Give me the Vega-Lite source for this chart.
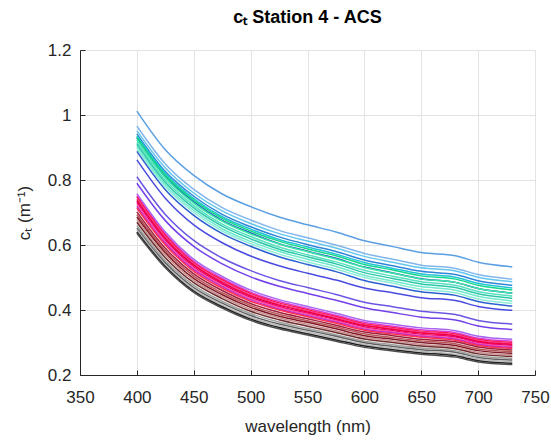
{
"$schema":"https://vega.github.io/schema/vega-lite/v6.json",
"width":455,"height":325,
"autosize":{"type":"none"},
"padding":{"left":80,"top":50,"right":16,"bottom":67},
"background":"white",
"title":{"text":"cₜ Station  4 - ACS","font":"Liberation Sans","fontSize":18,"fontWeight":"bold","color":"#000000","anchor":"middle","offset":14},
"datasets":{"spectra":[
{"id":1,"w":400,"c":1.012},{"id":1,"w":425,"c":0.893},{"id":1,"w":450,"c":0.814},{"id":1,"w":475,"c":0.757},{"id":1,"w":500,"c":0.718},{"id":1,"w":525,"c":0.686},{"id":1,"w":550,"c":0.662},{"id":1,"w":575,"c":0.640},{"id":1,"w":600,"c":0.613},{"id":1,"w":625,"c":0.595},{"id":1,"w":650,"c":0.577},{"id":1,"w":680,"c":0.567},{"id":1,"w":700,"c":0.547},{"id":1,"w":730,"c":0.533},
{"id":2,"w":400,"c":0.966},{"id":2,"w":425,"c":0.849},{"id":2,"w":450,"c":0.771},{"id":2,"w":475,"c":0.715},{"id":2,"w":500,"c":0.677},{"id":2,"w":525,"c":0.645},{"id":2,"w":550,"c":0.622},{"id":2,"w":575,"c":0.600},{"id":2,"w":600,"c":0.574},{"id":2,"w":625,"c":0.556},{"id":2,"w":650,"c":0.538},{"id":2,"w":680,"c":0.528},{"id":2,"w":700,"c":0.509},{"id":2,"w":730,"c":0.495},
{"id":3,"w":400,"c":0.952},{"id":3,"w":425,"c":0.837},{"id":3,"w":450,"c":0.760},{"id":3,"w":475,"c":0.705},{"id":3,"w":500,"c":0.666},{"id":3,"w":525,"c":0.635},{"id":3,"w":550,"c":0.612},{"id":3,"w":575,"c":0.591},{"id":3,"w":600,"c":0.565},{"id":3,"w":625,"c":0.547},{"id":3,"w":650,"c":0.530},{"id":3,"w":680,"c":0.520},{"id":3,"w":700,"c":0.501},{"id":3,"w":730,"c":0.487},
{"id":4,"w":400,"c":0.942},{"id":4,"w":425,"c":0.826},{"id":4,"w":450,"c":0.750},{"id":4,"w":475,"c":0.694},{"id":4,"w":500,"c":0.656},{"id":4,"w":525,"c":0.625},{"id":4,"w":550,"c":0.601},{"id":4,"w":575,"c":0.580},{"id":4,"w":600,"c":0.554},{"id":4,"w":625,"c":0.536},{"id":4,"w":650,"c":0.519},{"id":4,"w":680,"c":0.509},{"id":4,"w":700,"c":0.490},{"id":4,"w":730,"c":0.476},
{"id":5,"w":400,"c":0.936},{"id":5,"w":425,"c":0.820},{"id":5,"w":450,"c":0.743},{"id":5,"w":475,"c":0.687},{"id":5,"w":500,"c":0.649},{"id":5,"w":525,"c":0.617},{"id":5,"w":550,"c":0.594},{"id":5,"w":575,"c":0.572},{"id":5,"w":600,"c":0.546},{"id":5,"w":625,"c":0.528},{"id":5,"w":650,"c":0.511},{"id":5,"w":680,"c":0.501},{"id":5,"w":700,"c":0.482},{"id":5,"w":730,"c":0.468},
{"id":6,"w":400,"c":0.930},{"id":6,"w":425,"c":0.811},{"id":6,"w":450,"c":0.733},{"id":6,"w":475,"c":0.676},{"id":6,"w":500,"c":0.637},{"id":6,"w":525,"c":0.604},{"id":6,"w":550,"c":0.581},{"id":6,"w":575,"c":0.559},{"id":6,"w":600,"c":0.532},{"id":6,"w":625,"c":0.514},{"id":6,"w":650,"c":0.496},{"id":6,"w":680,"c":0.485},{"id":6,"w":700,"c":0.466},{"id":6,"w":730,"c":0.452},
{"id":7,"w":400,"c":0.932},{"id":7,"w":425,"c":0.815},{"id":7,"w":450,"c":0.738},{"id":7,"w":475,"c":0.682},{"id":7,"w":500,"c":0.643},{"id":7,"w":525,"c":0.612},{"id":7,"w":550,"c":0.588},{"id":7,"w":575,"c":0.567},{"id":7,"w":600,"c":0.540},{"id":7,"w":625,"c":0.523},{"id":7,"w":650,"c":0.505},{"id":7,"w":680,"c":0.495},{"id":7,"w":700,"c":0.476},{"id":7,"w":730,"c":0.462},
{"id":8,"w":400,"c":0.924},{"id":8,"w":425,"c":0.807},{"id":8,"w":450,"c":0.729},{"id":8,"w":475,"c":0.673},{"id":8,"w":500,"c":0.634},{"id":8,"w":525,"c":0.603},{"id":8,"w":550,"c":0.579},{"id":8,"w":575,"c":0.557},{"id":8,"w":600,"c":0.531},{"id":8,"w":625,"c":0.513},{"id":8,"w":650,"c":0.495},{"id":8,"w":680,"c":0.485},{"id":8,"w":700,"c":0.466},{"id":8,"w":730,"c":0.452},
{"id":9,"w":400,"c":0.916},{"id":9,"w":425,"c":0.799},{"id":9,"w":450,"c":0.721},{"id":9,"w":475,"c":0.664},{"id":9,"w":500,"c":0.626},{"id":9,"w":525,"c":0.594},{"id":9,"w":550,"c":0.570},{"id":9,"w":575,"c":0.548},{"id":9,"w":600,"c":0.522},{"id":9,"w":625,"c":0.504},{"id":9,"w":650,"c":0.487},{"id":9,"w":680,"c":0.476},{"id":9,"w":700,"c":0.457},{"id":9,"w":730,"c":0.443},
{"id":10,"w":400,"c":0.910},{"id":10,"w":425,"c":0.792},{"id":10,"w":450,"c":0.714},{"id":10,"w":475,"c":0.658},{"id":10,"w":500,"c":0.619},{"id":10,"w":525,"c":0.587},{"id":10,"w":550,"c":0.564},{"id":10,"w":575,"c":0.542},{"id":10,"w":600,"c":0.515},{"id":10,"w":625,"c":0.497},{"id":10,"w":650,"c":0.480},{"id":10,"w":680,"c":0.469},{"id":10,"w":700,"c":0.450},{"id":10,"w":730,"c":0.436},
{"id":11,"w":400,"c":0.903},{"id":11,"w":425,"c":0.785},{"id":11,"w":450,"c":0.707},{"id":11,"w":475,"c":0.650},{"id":11,"w":500,"c":0.611},{"id":11,"w":525,"c":0.580},{"id":11,"w":550,"c":0.556},{"id":11,"w":575,"c":0.534},{"id":11,"w":600,"c":0.507},{"id":11,"w":625,"c":0.489},{"id":11,"w":650,"c":0.472},{"id":11,"w":680,"c":0.461},{"id":11,"w":700,"c":0.442},{"id":11,"w":730,"c":0.428},
{"id":12,"w":400,"c":0.897},{"id":12,"w":425,"c":0.779},{"id":12,"w":450,"c":0.700},{"id":12,"w":475,"c":0.643},{"id":12,"w":500,"c":0.604},{"id":12,"w":525,"c":0.572},{"id":12,"w":550,"c":0.548},{"id":12,"w":575,"c":0.526},{"id":12,"w":600,"c":0.500},{"id":12,"w":625,"c":0.482},{"id":12,"w":650,"c":0.464},{"id":12,"w":680,"c":0.453},{"id":12,"w":700,"c":0.434},{"id":12,"w":730,"c":0.420},
{"id":13,"w":400,"c":0.888},{"id":13,"w":425,"c":0.770},{"id":13,"w":450,"c":0.691},{"id":13,"w":475,"c":0.635},{"id":13,"w":500,"c":0.596},{"id":13,"w":525,"c":0.564},{"id":13,"w":550,"c":0.540},{"id":13,"w":575,"c":0.518},{"id":13,"w":600,"c":0.491},{"id":13,"w":625,"c":0.473},{"id":13,"w":650,"c":0.456},{"id":13,"w":680,"c":0.445},{"id":13,"w":700,"c":0.426},{"id":13,"w":730,"c":0.412},
{"id":14,"w":400,"c":0.862},{"id":14,"w":425,"c":0.744},{"id":14,"w":450,"c":0.662},{"id":14,"w":475,"c":0.607},{"id":14,"w":500,"c":0.566},{"id":14,"w":525,"c":0.536},{"id":14,"w":550,"c":0.513},{"id":14,"w":575,"c":0.492},{"id":14,"w":600,"c":0.468},{"id":14,"w":625,"c":0.453},{"id":14,"w":650,"c":0.438},{"id":14,"w":680,"c":0.429},{"id":14,"w":700,"c":0.411},{"id":14,"w":730,"c":0.399},
{"id":15,"w":400,"c":0.810},{"id":15,"w":425,"c":0.694},{"id":15,"w":450,"c":0.614},{"id":15,"w":475,"c":0.560},{"id":15,"w":500,"c":0.521},{"id":15,"w":525,"c":0.491},{"id":15,"w":550,"c":0.469},{"id":15,"w":575,"c":0.448},{"id":15,"w":600,"c":0.424},{"id":15,"w":625,"c":0.410},{"id":15,"w":650,"c":0.396},{"id":15,"w":680,"c":0.386},{"id":15,"w":700,"c":0.368},{"id":15,"w":730,"c":0.357},
{"id":16,"w":400,"c":0.790},{"id":16,"w":425,"c":0.675},{"id":16,"w":450,"c":0.596},{"id":16,"w":475,"c":0.542},{"id":16,"w":500,"c":0.502},{"id":16,"w":525,"c":0.473},{"id":16,"w":550,"c":0.451},{"id":16,"w":575,"c":0.430},{"id":16,"w":600,"c":0.407},{"id":16,"w":625,"c":0.392},{"id":16,"w":650,"c":0.378},{"id":16,"w":680,"c":0.369},{"id":16,"w":700,"c":0.351},{"id":16,"w":730,"c":0.340},
{"id":17,"w":400,"c":0.758},{"id":17,"w":425,"c":0.640},{"id":17,"w":450,"c":0.556},{"id":17,"w":475,"c":0.503},{"id":17,"w":500,"c":0.461},{"id":17,"w":525,"c":0.432},{"id":17,"w":550,"c":0.411},{"id":17,"w":575,"c":0.390},{"id":17,"w":600,"c":0.368},{"id":17,"w":625,"c":0.356},{"id":17,"w":650,"c":0.345},{"id":17,"w":680,"c":0.336},{"id":17,"w":700,"c":0.319},{"id":17,"w":730,"c":0.310},
{"id":18,"w":400,"c":0.752},{"id":18,"w":425,"c":0.634},{"id":18,"w":450,"c":0.550},{"id":18,"w":475,"c":0.497},{"id":18,"w":500,"c":0.455},{"id":18,"w":525,"c":0.426},{"id":18,"w":550,"c":0.405},{"id":18,"w":575,"c":0.384},{"id":18,"w":600,"c":0.362},{"id":18,"w":625,"c":0.350},{"id":18,"w":650,"c":0.339},{"id":18,"w":680,"c":0.330},{"id":18,"w":700,"c":0.313},{"id":18,"w":730,"c":0.304},
{"id":19,"w":400,"c":0.748},{"id":19,"w":425,"c":0.630},{"id":19,"w":450,"c":0.546},{"id":19,"w":475,"c":0.493},{"id":19,"w":500,"c":0.451},{"id":19,"w":525,"c":0.422},{"id":19,"w":550,"c":0.401},{"id":19,"w":575,"c":0.380},{"id":19,"w":600,"c":0.358},{"id":19,"w":625,"c":0.346},{"id":19,"w":650,"c":0.335},{"id":19,"w":680,"c":0.326},{"id":19,"w":700,"c":0.309},{"id":19,"w":730,"c":0.300},
{"id":20,"w":400,"c":0.742},{"id":20,"w":425,"c":0.625},{"id":20,"w":450,"c":0.542},{"id":20,"w":475,"c":0.488},{"id":20,"w":500,"c":0.447},{"id":20,"w":525,"c":0.418},{"id":20,"w":550,"c":0.398},{"id":20,"w":575,"c":0.377},{"id":20,"w":600,"c":0.355},{"id":20,"w":625,"c":0.343},{"id":20,"w":650,"c":0.332},{"id":20,"w":680,"c":0.323},{"id":20,"w":700,"c":0.306},{"id":20,"w":730,"c":0.297},
{"id":21,"w":400,"c":0.737},{"id":21,"w":425,"c":0.620},{"id":21,"w":450,"c":0.538},{"id":21,"w":475,"c":0.484},{"id":21,"w":500,"c":0.443},{"id":21,"w":525,"c":0.415},{"id":21,"w":550,"c":0.394},{"id":21,"w":575,"c":0.373},{"id":21,"w":600,"c":0.352},{"id":21,"w":625,"c":0.340},{"id":21,"w":650,"c":0.329},{"id":21,"w":680,"c":0.320},{"id":21,"w":700,"c":0.303},{"id":21,"w":730,"c":0.294},
{"id":22,"w":400,"c":0.731},{"id":22,"w":425,"c":0.615},{"id":22,"w":450,"c":0.533},{"id":22,"w":475,"c":0.480},{"id":22,"w":500,"c":0.439},{"id":22,"w":525,"c":0.411},{"id":22,"w":550,"c":0.390},{"id":22,"w":575,"c":0.370},{"id":22,"w":600,"c":0.348},{"id":22,"w":625,"c":0.336},{"id":22,"w":650,"c":0.325},{"id":22,"w":680,"c":0.317},{"id":22,"w":700,"c":0.300},{"id":22,"w":730,"c":0.291},
{"id":23,"w":400,"c":0.725},{"id":23,"w":425,"c":0.610},{"id":23,"w":450,"c":0.528},{"id":23,"w":475,"c":0.476},{"id":23,"w":500,"c":0.435},{"id":23,"w":525,"c":0.407},{"id":23,"w":550,"c":0.387},{"id":23,"w":575,"c":0.366},{"id":23,"w":600,"c":0.345},{"id":23,"w":625,"c":0.333},{"id":23,"w":650,"c":0.322},{"id":23,"w":680,"c":0.313},{"id":23,"w":700,"c":0.297},{"id":23,"w":730,"c":0.288},
{"id":24,"w":400,"c":0.719},{"id":24,"w":425,"c":0.605},{"id":24,"w":450,"c":0.524},{"id":24,"w":475,"c":0.472},{"id":24,"w":500,"c":0.431},{"id":24,"w":525,"c":0.403},{"id":24,"w":550,"c":0.383},{"id":24,"w":575,"c":0.363},{"id":24,"w":600,"c":0.341},{"id":24,"w":625,"c":0.330},{"id":24,"w":650,"c":0.319},{"id":24,"w":680,"c":0.310},{"id":24,"w":700,"c":0.294},{"id":24,"w":730,"c":0.285},
{"id":25,"w":400,"c":0.713},{"id":25,"w":425,"c":0.600},{"id":25,"w":450,"c":0.519},{"id":25,"w":475,"c":0.467},{"id":25,"w":500,"c":0.427},{"id":25,"w":525,"c":0.400},{"id":25,"w":550,"c":0.379},{"id":25,"w":575,"c":0.359},{"id":25,"w":600,"c":0.338},{"id":25,"w":625,"c":0.326},{"id":25,"w":650,"c":0.316},{"id":25,"w":680,"c":0.307},{"id":25,"w":700,"c":0.291},{"id":25,"w":730,"c":0.282},
{"id":26,"w":400,"c":0.702},{"id":26,"w":425,"c":0.590},{"id":26,"w":450,"c":0.511},{"id":26,"w":475,"c":0.460},{"id":26,"w":500,"c":0.420},{"id":26,"w":525,"c":0.393},{"id":26,"w":550,"c":0.373},{"id":26,"w":575,"c":0.353},{"id":26,"w":600,"c":0.332},{"id":26,"w":625,"c":0.321},{"id":26,"w":650,"c":0.310},{"id":26,"w":680,"c":0.302},{"id":26,"w":700,"c":0.286},{"id":26,"w":730,"c":0.277},
{"id":27,"w":400,"c":0.694},{"id":27,"w":425,"c":0.583},{"id":27,"w":450,"c":0.504},{"id":27,"w":475,"c":0.453},{"id":27,"w":500,"c":0.414},{"id":27,"w":525,"c":0.387},{"id":27,"w":550,"c":0.367},{"id":27,"w":575,"c":0.348},{"id":27,"w":600,"c":0.327},{"id":27,"w":625,"c":0.315},{"id":27,"w":650,"c":0.305},{"id":27,"w":680,"c":0.296},{"id":27,"w":700,"c":0.280},{"id":27,"w":730,"c":0.272},
{"id":28,"w":400,"c":0.686},{"id":28,"w":425,"c":0.576},{"id":28,"w":450,"c":0.497},{"id":28,"w":475,"c":0.447},{"id":28,"w":500,"c":0.408},{"id":28,"w":525,"c":0.381},{"id":28,"w":550,"c":0.362},{"id":28,"w":575,"c":0.342},{"id":28,"w":600,"c":0.321},{"id":28,"w":625,"c":0.310},{"id":28,"w":650,"c":0.300},{"id":28,"w":680,"c":0.291},{"id":28,"w":700,"c":0.275},{"id":28,"w":730,"c":0.267},
{"id":29,"w":400,"c":0.678},{"id":29,"w":425,"c":0.569},{"id":29,"w":450,"c":0.491},{"id":29,"w":475,"c":0.441},{"id":29,"w":500,"c":0.402},{"id":29,"w":525,"c":0.376},{"id":29,"w":550,"c":0.356},{"id":29,"w":575,"c":0.336},{"id":29,"w":600,"c":0.316},{"id":29,"w":625,"c":0.305},{"id":29,"w":650,"c":0.294},{"id":29,"w":680,"c":0.286},{"id":29,"w":700,"c":0.270},{"id":29,"w":730,"c":0.262},
{"id":30,"w":400,"c":0.670},{"id":30,"w":425,"c":0.561},{"id":30,"w":450,"c":0.484},{"id":30,"w":475,"c":0.435},{"id":30,"w":500,"c":0.396},{"id":30,"w":525,"c":0.370},{"id":30,"w":550,"c":0.350},{"id":30,"w":575,"c":0.331},{"id":30,"w":600,"c":0.311},{"id":30,"w":625,"c":0.300},{"id":30,"w":650,"c":0.289},{"id":30,"w":680,"c":0.281},{"id":30,"w":700,"c":0.265},{"id":30,"w":730,"c":0.257},
{"id":31,"w":400,"c":0.660},{"id":31,"w":425,"c":0.552},{"id":31,"w":450,"c":0.476},{"id":31,"w":475,"c":0.427},{"id":31,"w":500,"c":0.389},{"id":31,"w":525,"c":0.363},{"id":31,"w":550,"c":0.343},{"id":31,"w":575,"c":0.324},{"id":31,"w":600,"c":0.304},{"id":31,"w":625,"c":0.293},{"id":31,"w":650,"c":0.283},{"id":31,"w":680,"c":0.275},{"id":31,"w":700,"c":0.259},{"id":31,"w":730,"c":0.251},
{"id":32,"w":400,"c":0.652},{"id":32,"w":425,"c":0.545},{"id":32,"w":450,"c":0.469},{"id":32,"w":475,"c":0.421},{"id":32,"w":500,"c":0.383},{"id":32,"w":525,"c":0.357},{"id":32,"w":550,"c":0.338},{"id":32,"w":575,"c":0.319},{"id":32,"w":600,"c":0.299},{"id":32,"w":625,"c":0.288},{"id":32,"w":650,"c":0.278},{"id":32,"w":680,"c":0.270},{"id":32,"w":700,"c":0.254},{"id":32,"w":730,"c":0.246},
{"id":33,"w":400,"c":0.646},{"id":33,"w":425,"c":0.539},{"id":33,"w":450,"c":0.464},{"id":33,"w":475,"c":0.415},{"id":33,"w":500,"c":0.377},{"id":33,"w":525,"c":0.352},{"id":33,"w":550,"c":0.333},{"id":33,"w":575,"c":0.313},{"id":33,"w":600,"c":0.294},{"id":33,"w":625,"c":0.283},{"id":33,"w":650,"c":0.273},{"id":33,"w":680,"c":0.264},{"id":33,"w":700,"c":0.249},{"id":33,"w":730,"c":0.241},
{"id":34,"w":400,"c":0.640},{"id":34,"w":425,"c":0.534},{"id":34,"w":450,"c":0.458},{"id":34,"w":475,"c":0.410},{"id":34,"w":500,"c":0.372},{"id":34,"w":525,"c":0.346},{"id":34,"w":550,"c":0.327},{"id":34,"w":575,"c":0.308},{"id":34,"w":600,"c":0.289},{"id":34,"w":625,"c":0.278},{"id":34,"w":650,"c":0.268},{"id":34,"w":680,"c":0.259},{"id":34,"w":700,"c":0.244},{"id":34,"w":730,"c":0.236},
{"id":35,"w":400,"c":0.636},{"id":35,"w":425,"c":0.530},{"id":35,"w":450,"c":0.454},{"id":35,"w":475,"c":0.406},{"id":35,"w":500,"c":0.368},{"id":35,"w":525,"c":0.342},{"id":35,"w":550,"c":0.323},{"id":35,"w":575,"c":0.304},{"id":35,"w":600,"c":0.285},{"id":35,"w":625,"c":0.274},{"id":35,"w":650,"c":0.264},{"id":35,"w":680,"c":0.255},{"id":35,"w":700,"c":0.240},{"id":35,"w":730,"c":0.232}
]},
"data":{"name":"spectra"},
"mark":{"type":"line","strokeWidth":1.5,"interpolate":"monotone","clip":true},
"encoding":{
"x":{"field":"w","type":"quantitative","scale":{"domain":[350,750],"nice":false,"zero":false},
"axis":{"title":"wavelength (nm)","values":[350,400,450,500,550,600,650,700,750],"format":"d","tickSize":-5,"labelPadding":19,"titlePadding":13}},
"y":{"field":"c","type":"quantitative","scale":{"domain":[0.2,1.2],"nice":false,"zero":false},
"axis":{"title":"cₜ (m⁻¹)","values":[0.2,0.4,0.6,0.8,1.0,1.2],"format":".1~f","tickSize":-5,"labelPadding":14,"titlePadding":14}},
"color":{"field":"id","type":"nominal","legend":null,"scale":{
"domain":[1,2,3,4,5,6,7,8,9,10,11,12,13,14,15,16,17,18,19,20,21,22,23,24,25,26,27,28,29,30,31,32,33,34,35],
"range":["#5b9fe3","#80b6ec","#62c6ef","#2f86d8","#22c3d4","#1a55c2","#12d98b","#3be6a7","#58e0c1","#2dc9a9","#70e9cc","#8eecd7","#2b60d1","#4a4ce0","#6b56e3","#7440ea","#a865f0","#d83fd8","#ff1a4a","#ff3a94","#f00038","#e8006a","#ff55a8","#c02cc8","#ff3050","#a02040","#b85858","#801828","#c89090","#6e2c2c","#a0a0a0","#606060","#b8b8b8","#202020","#505050"]}}
},
"config":{
"view":{"stroke":null},
"axis":{"labelFont":"Liberation Sans","labelFontSize":17,"labelColor":"#262626","titleFont":"Liberation Sans","titleFontSize":17,"titleFontWeight":"normal","titleColor":"#262626","gridColor":"#e3e3e3","gridWidth":1,"domainColor":"#262626","domainWidth":1,"tickColor":"#262626","labelFlush":false,"labelOverlap":false}
}
}
